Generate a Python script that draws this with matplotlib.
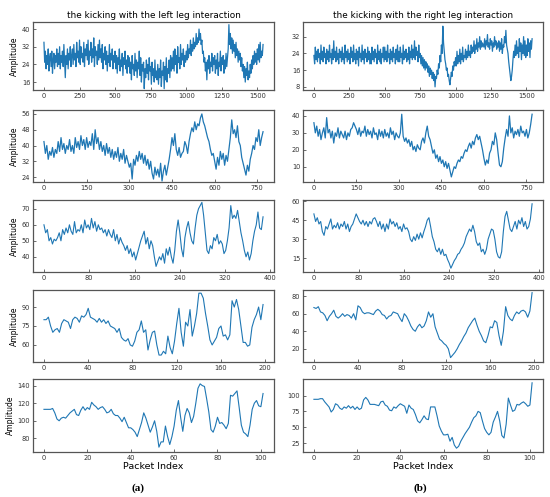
import numpy as np
import matplotlib
matplotlib.use("Agg")
import matplotlib.pyplot as plt

# left column: kicking with the left leg, right column: right leg
# rows sampled every 5, 5, 3, 2 and 1 packets
left_1 = [34, 25, 30, 22, 28, 24, 31, 21, 27, 29, 23, 30, 20, 26, 29, 22, 28, 25, 31, 23,
          29, 24, 32, 22, 28, 25, 30, 23, 33, 26, 18, 28, 24, 31, 22, 29, 26, 32, 23, 28,
          31, 24, 33, 26, 29, 23, 34, 27, 30, 25, 35, 24, 32, 27, 29, 25, 34, 23, 31, 28,
          33, 26, 35, 24, 30, 28, 34, 25, 31, 27, 36, 23, 32, 28, 30, 24, 33, 26, 35, 27,
          31, 25, 33, 22, 29, 26, 32, 24, 30, 21, 28, 25, 33, 23, 29, 26, 31, 22, 28, 25,
          30, 22, 28, 20, 27, 24, 31, 21, 26, 23, 29, 19, 27, 24, 30, 22, 26, 20, 28, 23,
          27, 20, 25, 17, 28, 22, 24, 19, 29, 21, 26, 18, 25, 22, 30, 19, 27, 16, 24, 21,
          25, 13, 22, 18, 26, 20, 24, 17, 27, 21, 23, 15, 25, 19, 22, 16, 26, 18, 21, 17,
          24, 15, 22, 18, 26, 14, 21, 19, 25, 13, 23, 17, 27, 16, 22, 20, 26, 18, 28, 21,
          27, 22, 30, 21, 31, 24, 28, 20, 32, 25, 27, 22, 33, 24, 29, 26, 31, 23, 28, 25,
          30, 26, 33, 27, 31, 29, 35, 28, 33, 30, 36, 31, 34, 32, 38, 33, 36, 34, 40, 35,
          38, 33, 35, 29, 30, 25, 27, 21, 25, 17, 26, 22, 28, 20, 25, 23, 29, 21, 27, 24,
          28, 20, 26, 22, 29, 19, 25, 23, 30, 21, 27, 24, 28, 20, 26, 22, 29, 23, 27, 31,
          42, 33, 38, 31, 36, 29, 35, 30, 33, 27, 34, 28, 31, 25, 30, 26, 29, 23, 27, 21,
          24, 18, 23, 16, 22, 19, 25, 17, 21, 18, 24, 20, 26, 22, 28, 24, 30, 25, 29, 24,
          31, 26, 33, 25, 34, 27, 30, 28, 33]
right_1 = [23, 19, 27, 21, 25, 20, 26, 22, 24, 19, 28, 21, 25, 20, 27, 22, 24, 19, 26, 21,
           25, 20, 28, 22, 24, 19, 26, 21, 30, 22, 25, 20, 27, 21, 24, 19, 26, 22, 25, 20,
           27, 21, 24, 19, 28, 22, 25, 20, 26, 21, 24, 19, 27, 22, 25, 20, 28, 21, 24, 19,
           26, 21, 25, 18, 27, 22, 24, 20, 28, 21, 25, 19, 26, 22, 24, 20, 27, 21, 25, 19,
           24, 19, 27, 21, 25, 20, 26, 22, 24, 19, 28, 21, 25, 20, 26, 19, 24, 22, 27, 20,
           27, 21, 25, 20, 28, 22, 24, 19, 26, 21, 25, 20, 27, 22, 24, 19, 26, 21, 28, 20,
           25, 20, 27, 22, 24, 19, 28, 21, 25, 22, 26, 20, 24, 21, 27, 19, 25, 22, 28, 21,
           26, 22, 30, 21, 27, 23, 25, 20, 28, 22, 24, 19, 23, 18, 22, 17, 21, 16, 20, 17,
           19, 15, 18, 13, 17, 14, 16, 12, 15, 11, 14, 8, 13, 12, 16, 14, 19, 17, 23, 20,
           28, 24, 37, 29, 25, 21, 19, 16, 17, 13, 14, 11, 9, 12, 15, 13, 18, 16, 20, 18,
           22, 18, 25, 19, 23, 20, 26, 19, 24, 21, 27, 20, 23, 22, 26, 21, 25, 22, 28, 23,
           25, 22, 28, 24, 27, 25, 30, 24, 28, 26, 31, 25, 29, 27, 32, 26, 30, 27, 29, 28,
           27, 31, 26, 30, 28, 33, 27, 29, 26, 31, 28, 30, 25, 29, 27, 32, 28, 30, 26, 29,
           27, 30, 25, 29, 26, 31, 24, 28, 27, 32, 29, 35, 28, 26, 24, 20, 17, 14, 11, 13,
           16, 21, 25, 22, 28, 23, 30, 24, 27, 22, 31, 25, 29, 21, 28, 24, 32, 23, 30, 22,
           28, 23, 31, 25, 29, 22, 30, 26, 31]

left_2 = [42, 36, 40, 33, 37, 35, 39, 34, 38, 36,
          42, 37, 44, 38, 41, 36, 40, 38, 43, 37,
          40, 36, 44, 39, 42, 38, 45, 40, 43, 38,
          44, 39, 42, 40, 46, 38, 48, 41, 44, 38,
          42, 37, 40, 35, 41, 36, 39, 34, 38, 33,
          37, 34, 39, 32, 36, 33, 38, 31, 35, 32,
          29, 31, 23, 33, 30, 35, 32, 37, 33, 36,
          31, 35, 30, 33, 28, 32, 26, 23, 29, 25,
          28, 24, 31, 22, 27, 30, 25, 29, 33, 38,
          44, 40, 46, 38, 35, 39, 34, 36, 37, 42,
          40, 36, 42, 46, 49, 47, 52, 48, 51, 50,
          54, 56, 52, 50, 47, 44, 42, 38, 35, 36,
          32, 28, 34, 30, 37, 33, 36, 30, 35, 32,
          38, 44, 53, 46, 48, 44, 50, 42, 40, 34,
          31, 28, 25, 30, 27, 33, 36, 40, 38, 44,
          42, 48, 40, 44, 47]
right_2 = [36, 30, 34, 28, 32, 26, 30, 33, 27, 39,
           30, 32, 27, 31, 24, 30, 28, 33, 27, 31,
           29, 27, 31, 26, 30, 28, 32, 33, 36, 34,
           32, 29, 33, 28, 31, 30, 34, 28, 32, 29,
           31, 27, 33, 29, 30, 26, 32, 28, 31, 27,
           32, 28, 30, 27, 33, 29, 31, 26, 30, 28,
           27, 30, 41, 28, 25, 27, 24, 26, 22, 25,
           20, 22, 19, 23, 21, 20, 25, 27, 24, 30,
           34, 28, 26, 22, 18, 20, 15, 17, 13, 16,
           12, 14, 10, 13, 9, 12, 8, 4, 7, 10,
           9, 12, 14, 13, 16, 15, 18, 20, 19, 22,
           24, 21, 25, 23, 27, 29, 26, 28, 24, 20,
           15, 11, 14, 12, 18, 20, 25, 23, 30, 26,
           18, 11, 10, 13, 21, 27, 32, 28, 40, 30,
           33, 27, 31, 29, 32, 28, 34, 30, 31, 28,
           32, 27, 30, 35, 41]

left_3 = [60, 55, 57, 50, 52, 48, 51, 50, 52, 55,
          50, 57, 54, 58, 55, 60, 56, 54, 62, 55,
          57, 56, 60, 55, 63, 58, 60, 57, 64, 58,
          62, 56, 60, 57, 58, 55, 57, 53, 57, 54,
          52, 57, 50, 54, 48, 52, 49, 47, 44, 47,
          42, 45, 40, 43, 38, 42, 46, 50, 53, 56,
          48, 52, 45, 50, 47, 40, 34, 37, 40, 38,
          42, 36, 45, 41, 46, 40, 36, 44, 56, 63,
          55, 45, 40, 52, 58, 62, 55, 50, 48, 58,
          66, 70, 72, 74, 66, 55, 44, 42, 47, 45,
          52, 50, 54, 48, 50, 48, 42, 44, 50, 58,
          72, 64, 66, 64, 69, 62, 55, 50, 44, 40,
          43, 38, 42, 50, 56, 60, 68, 58, 57, 65]
right_3 = [50, 44, 47, 42, 44, 36, 33, 40, 38, 42,
           46, 38, 41, 39, 43, 38, 42, 40, 44, 38,
           42, 36, 40, 42, 46, 50, 47, 44, 42, 45,
           41, 44, 40, 44, 42, 46, 47, 44, 40, 44,
           38, 42, 36, 42, 38, 46, 42, 44, 40, 43,
           38, 40, 36, 42, 38, 39, 36, 30, 28, 32,
           29, 34, 30, 35, 31, 36, 40, 45, 47, 40,
           32, 28, 22, 20, 23, 18, 22, 17, 18, 14,
           11, 7, 10, 13, 15, 18, 19, 22, 24, 27,
           32, 35, 38, 36, 41, 36, 28, 25, 27, 20,
           22, 18, 22, 30, 34, 38, 37, 30, 20, 16,
           15, 20, 36, 48, 52, 45, 38, 36, 40, 44,
           38, 45, 42, 47, 40, 44, 38, 40, 46, 58]

left_4 = [80, 80, 82, 75, 70, 72, 73, 70, 77, 80,
          79, 78, 73, 80, 82, 81, 78, 83, 82, 84,
          89, 82, 81, 80, 78, 81, 78, 80, 77, 79,
          75, 74, 73, 70, 73, 66, 64, 63, 65, 60,
          59, 63, 70, 72, 79, 70, 72, 56, 64, 70,
          71, 60, 52, 52, 55, 53, 67, 58, 53, 63,
          77, 89, 70, 59, 78, 75, 88, 67, 75, 85,
          101, 101, 97, 85, 75, 64, 60, 63, 66, 73,
          75, 67, 68, 64, 68, 95, 90, 96, 88, 75,
          62, 62, 59, 60, 74, 80, 84, 90, 80, 92]
right_4 = [67, 66, 68, 62, 61, 58, 52, 57, 60, 64,
           57, 55, 57, 60, 57, 59, 58, 55, 60, 53,
           69, 67, 62, 60, 61, 61, 60, 59, 63, 65,
           63, 59, 58, 54, 57, 58, 62, 61, 60, 55,
           51, 60, 57, 52, 46, 42, 40, 45, 48, 44,
           46, 52, 62, 56, 60, 45, 38, 31, 29, 26,
           24, 20, 10, 13, 16, 20, 25, 29, 34, 38,
           44, 48, 52, 55, 47, 40, 35, 29, 27, 35,
           45, 44, 52, 50, 35, 24, 40, 68, 58, 54,
           52, 58, 62, 60, 63, 64, 62, 56, 63, 84]

left_5 = [113, 113, 113, 113, 114, 109, 102, 100, 103, 104,
          103, 106, 109, 111, 113, 107, 106, 112, 116, 112,
          115, 113, 121, 118, 116, 113, 115, 116, 113, 109,
          110, 113, 108, 106, 106, 103, 99, 104, 98, 92,
          92, 90, 87, 82, 90, 98, 109, 103, 95, 87,
          93, 100, 88, 70, 76, 76, 94, 82, 73, 82,
          94, 112, 123, 104, 88, 106, 114, 109, 98, 105,
          120, 137, 142, 140, 139, 125, 110, 90, 87, 94,
          104, 97, 98, 95, 91, 97, 129, 128, 131, 134,
          115, 95, 87, 85, 82, 95, 113, 120, 123, 117,
          116, 131]
right_5 = [94, 94, 94, 95, 95, 90, 86, 82, 74, 78,
           87, 85, 80, 78, 82, 80, 84, 80, 83, 78,
           82, 78, 80, 93, 97, 93, 86, 86, 86, 85,
           84, 90, 91, 85, 83, 77, 76, 82, 80, 84,
           87, 85, 83, 72, 85, 80, 78, 70, 60, 57,
           62, 68, 63, 62, 82, 82, 82, 68, 52, 44,
           38, 38, 39, 28, 34, 22, 17, 20, 28, 34,
           40, 45, 50, 58, 65, 68, 75, 73, 60, 48,
           42, 38, 42, 58, 66, 75, 60, 37, 33, 55,
           96, 85, 75, 77, 86, 85, 88, 90, 87, 83,
           85, 120]

rows = [(left_1, right_1, 5), (left_2, right_2, 5), (left_3, right_3, 3),
        (left_4, right_4, 2), (left_5, right_5, 1)]

xticks = [np.arange(0, 1501, 250), np.arange(0, 751, 150), np.arange(0, 401, 80),
          np.arange(0, 201, 40), np.arange(0, 101, 20)]
yticks_left = [[16, 24, 32, 40], [24, 32, 40, 48, 56], [40, 50, 60, 70],
               [60, 75, 90], [80, 100, 120, 140]]
yticks_right = [[8, 16, 24, 32], [10, 20, 30, 40], [15, 30, 45, 60],
                [20, 40, 60, 80], [25, 50, 75, 100]]
ylim_left = [(12.4, 43.2), (21.5, 58), (30.5, 75.5), (46.5, 103.5), (64.5, 147.5)]
ylim_right = [(6.5, 39), (1, 43.5), (4, 61), (5, 87), (11, 126)]

W, H = 550, 497
fig = plt.figure(figsize=(W / 100, H / 100), dpi=100)

row_px = [(22, 90), (110, 182), (200, 272), (290, 362), (379, 452)]
col_px = [(33, 274), (303, 543)]

for r, (yl, yr, step) in enumerate(rows):
    top, bot = row_px[r]
    for c, y in enumerate([yl, yr]):
        x0, x1 = col_px[c]
        ax = fig.add_axes([x0 / W, 1 - bot / H, (x1 - x0) / W, (bot - top) / H])
        x = np.arange(len(y)) * step
        ax.plot(x, y, color='#1f77b4', lw=0.9 if r < 2 else 0.8)
        ax.set_xticks(xticks[r])
        ax.set_yticks(yticks_left[r] if c == 0 else yticks_right[r])
        ax.set_ylim(ylim_left[r] if c == 0 else ylim_right[r])
        ax.tick_params(direction='in', length=2, width=0.5, labelsize=4.8,
                       pad=2, colors='#333333')
        for s in ax.spines.values():
            s.set_color('#555555')
            s.set_linewidth(0.9)
        if c == 0:
            ax.set_ylabel('Amplitude', fontsize=5.5, labelpad=2)
        if r == 0:
            ax.set_title('the kicking with the left leg interaction' if c == 0
                         else 'the kicking with the right leg interaction',
                         fontsize=6.4, pad=3)
        if r == 4:
            ax.set_xlabel('Packet Index', fontsize=6.8, labelpad=1)

fig.text(0.25, 1 - 488 / H, '(a)', ha='center', va='center',
         fontsize=8, fontweight='bold', family='Liberation Serif')
fig.text(0.765, 1 - 488 / H, '(b)', ha='center', va='center',
         fontsize=8, fontweight='bold', family='Liberation Serif')

fig.savefig('out.png', dpi=100)
